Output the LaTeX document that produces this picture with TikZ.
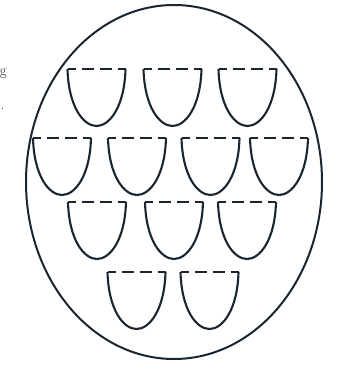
\documentclass[tikz,border=0pt]{standalone}
\usepackage{fontspec}
\usepackage{tikz}
\usetikzlibrary{shapes.geometric}
\definecolor{ink}{HTML}{1A2530}
\tikzset{
  x=1pt, y=-1pt,
  inkline/.style={draw=ink, line width=2.1pt},
  rimline/.style={draw=ink, line width=1.8pt, dash pattern=on 12pt off 6pt, dash phase=4pt},
  pics/cupshape/.style={code={
    \draw[inkline] (-29,0) .. controls (-28,38) and (-13,57) .. (0,57)
                           .. controls (13,57) and (28,38) .. (29,0);
    \draw[rimline] (-29,0) -- (29,0);
  }},
  edgetext/.style={font=\fontsize{15}{17}\selectfont, text=ink, inner sep=0pt}
}
\begin{document}
\begin{tikzpicture}
\useasboundingbox (0,0) rectangle (337,365);
\node[ellipse, draw=ink, line width=2pt, minimum width=296pt, minimum height=354pt, inner sep=0pt] (outer) at (174,182) {};
% row 1
\pic (c11) at (96.5,69) {cupshape};
\pic (c12) at (172.5,69) {cupshape};
\pic (c13) at (247.5,69) {cupshape};
% row 2
\pic (c21) at (62,138) {cupshape};
\pic (c22) at (137,138) {cupshape};
\pic (c23) at (210.5,138) {cupshape};
\pic (c24) at (279,138) {cupshape};
% row 3
\pic (c31) at (97,202) {cupshape};
\pic (c32) at (174,202) {cupshape};
\pic (c33) at (247,202) {cupshape};
% row 4
\pic (c41) at (136.5,272) {cupshape};
\pic (c42) at (209.5,272) {cupshape};
% cropped text at left edge
\node[edgetext, anchor=base east] (tg) at (7,75) {g};
\node[edgetext, anchor=base east] (tdot) at (4.5,109) {.};
\end{tikzpicture}
\end{document}
